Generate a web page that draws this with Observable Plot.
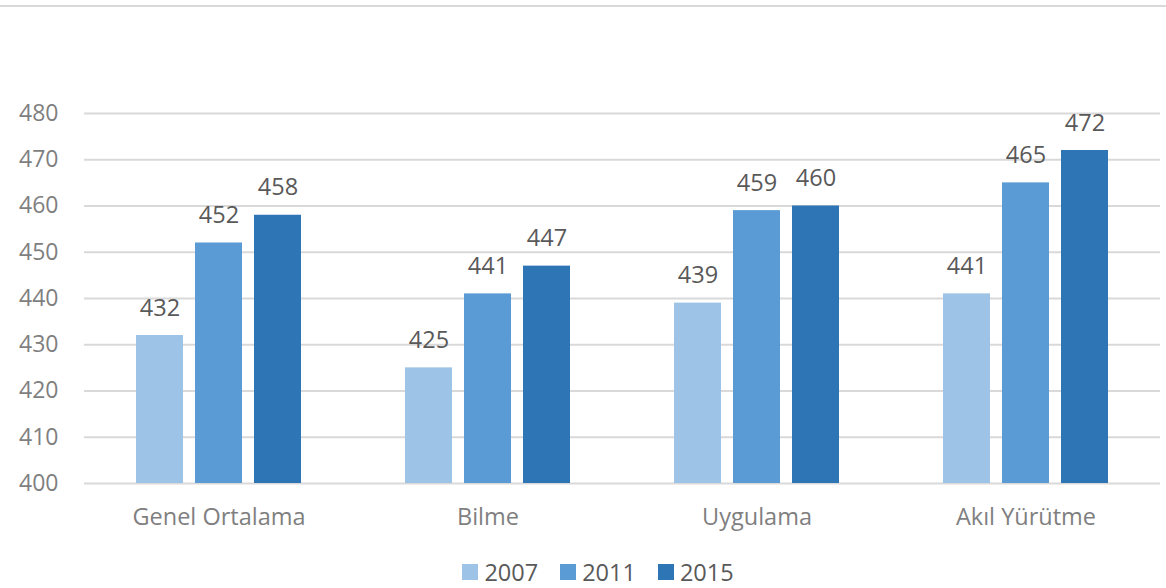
<!DOCTYPE html>
<html>
<head>
<meta charset="utf-8">
<script src="https://cdn.jsdelivr.net/npm/d3@7"></script>
<script src="https://cdn.jsdelivr.net/npm/@observablehq/plot@0.6"></script>
<style>
  html, body { margin: 0; padding: 0; background: #fff; }
  body { width: 1166px; height: 588px; overflow: hidden; font-family: "Open Sans", sans-serif; }
  #topline { height: 5px; border-bottom: 2px solid #d9d9d9; }
  #legend { display: flex; justify-content: center; gap: 22px; font-size: 23.5px; color: #595959; margin-left: 30px; margin-top: 22px; line-height: 26px; height: 26px; }
  #legend .item { display: flex; align-items: center; gap: 6px; }
  #legend .sw { width: 16px; height: 16px; display: inline-block; }
</style>
</head>
<body>
<div id="topline"></div>
<div id="chart"></div>
<div id="legend"></div>
<script>
const categories = ["Genel Ortalama", "Bilme", "Uygulama", "Akıl Yürütme"];
const years = ["2007", "2011", "2015"];
const values2007 = [432, 425, 439, 441];
const values2011 = [452, 441, 459, 465];
const values2015 = [458, 447, 460, 472];
const colors = ["#9dc3e6", "#5b9bd5", "#2e75b6"];
const yTicks = [400, 410, 420, 430, 440, 450, 460, 470, 480];

const series = [values2007, values2011, values2015];
const data = [];
categories.forEach((c, i) => {
  years.forEach((y, j) => data.push({category: c, year: y, value: series[j][i]}));
});

const chart = Plot.plot({
  width: 1166,
  height: 530,
  marginLeft: 83,
  marginRight: 6,
  marginTop: 106,
  marginBottom: 54,
  style: { fontFamily: "Open Sans, sans-serif", background: "#fff" },
  fx: { domain: categories, padding: 0, label: null },
  x: { domain: years, paddingInner: 0.21, paddingOuter: 0.868, axis: null },
  y: { domain: [400, 480], label: null, ticks: yTicks },
  color: { domain: years, range: colors },
  marks: [
    Plot.gridY(yTicks, { stroke: "#d9d9d9", strokeWidth: 2, strokeOpacity: 1 }),
    Plot.axisY(yTicks, { tickSize: 0, tickPadding: 26, fontSize: 23, fill: "#7f7f7f", label: null }),
    Plot.axisFx({ anchor: "bottom", tickSize: 0, tickPadding: 25, fontSize: 23.5, fill: "#7f7f7f", label: null }),
    Plot.barY(data, { fx: "category", x: "year", y1: 400, y2: "value", fill: "year" }),
    Plot.text(data, { fx: "category", x: "year", y: "value", text: d => String(d.value), lineAnchor: "bottom", dy: -20, fontSize: 23.5, fill: "#595959" })
  ]
});
document.getElementById("chart").appendChild(chart);

const legend = document.getElementById("legend");
years.forEach((y, i) => {
  const item = document.createElement("span");
  item.className = "item";
  const sw = document.createElement("span");
  sw.className = "sw";
  sw.style.background = colors[i];
  item.appendChild(sw);
  item.appendChild(document.createTextNode(y));
  legend.appendChild(item);
});
</script>
</body>
</html>
